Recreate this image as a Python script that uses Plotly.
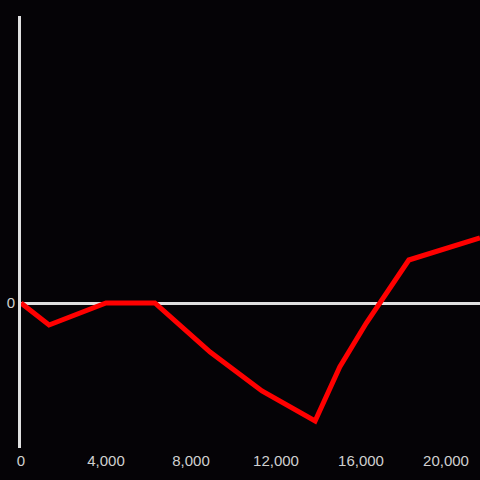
import plotly.graph_objects as go

x_vals = [0, 1320, 4000, 6300, 8900, 11340, 13840, 15000, 16250, 18250, 21600]
y_vals = [0, -22, 0, 0, -49, -88, -118, -64, -20, 43, 65]

x_ticks = [0, 4000, 8000, 12000, 16000, 20000]
x_tick_labels = ["0", "4,000", "8,000", "12,000", "16,000", "20,000"]

bg = "#050306"
axis_col = "#e0e0e0"
text_col = "#d0d0d0"

fig = go.Figure()
fig.add_trace(go.Scatter(
    x=x_vals, y=y_vals, mode="lines",
    line=dict(color="#ff0000", width=5),
    hoverinfo="skip", showlegend=False,
))

fig.update_layout(
    width=480, height=480,
    margin=dict(l=21, r=0, t=16, b=32),
    paper_bgcolor=bg, plot_bgcolor=bg,
    font=dict(family="Liberation Sans, Arial, sans-serif", size=15, color=text_col),
    xaxis=dict(
        range=[0, 21600], tickvals=x_ticks, ticktext=x_tick_labels,
        showgrid=False, zeroline=False, showline=False, ticks="",
        ticklabelstandoff=2,
        tickfont=dict(size=15, color=text_col),
    ),
    yaxis=dict(
        range=[-145, 287], tickvals=[0], ticktext=["0"],
        showgrid=False, zeroline=True, zerolinecolor=axis_col, zerolinewidth=3,
        showline=True, linecolor=axis_col, linewidth=3, ticks="",
        tickfont=dict(size=15, color=text_col),
    ),
)

fig.write_html("out.html", config={"displayModeBar": False, "staticPlot": True})
with open("out.html", "r", encoding="utf-8") as f:
    html = f.read()
html = html.replace("<head>", "<head><style>html,body{margin:0;padding:0;background:#050306;overflow:hidden}</style>", 1)
with open("out.html", "w", encoding="utf-8") as f:
    f.write(html)
